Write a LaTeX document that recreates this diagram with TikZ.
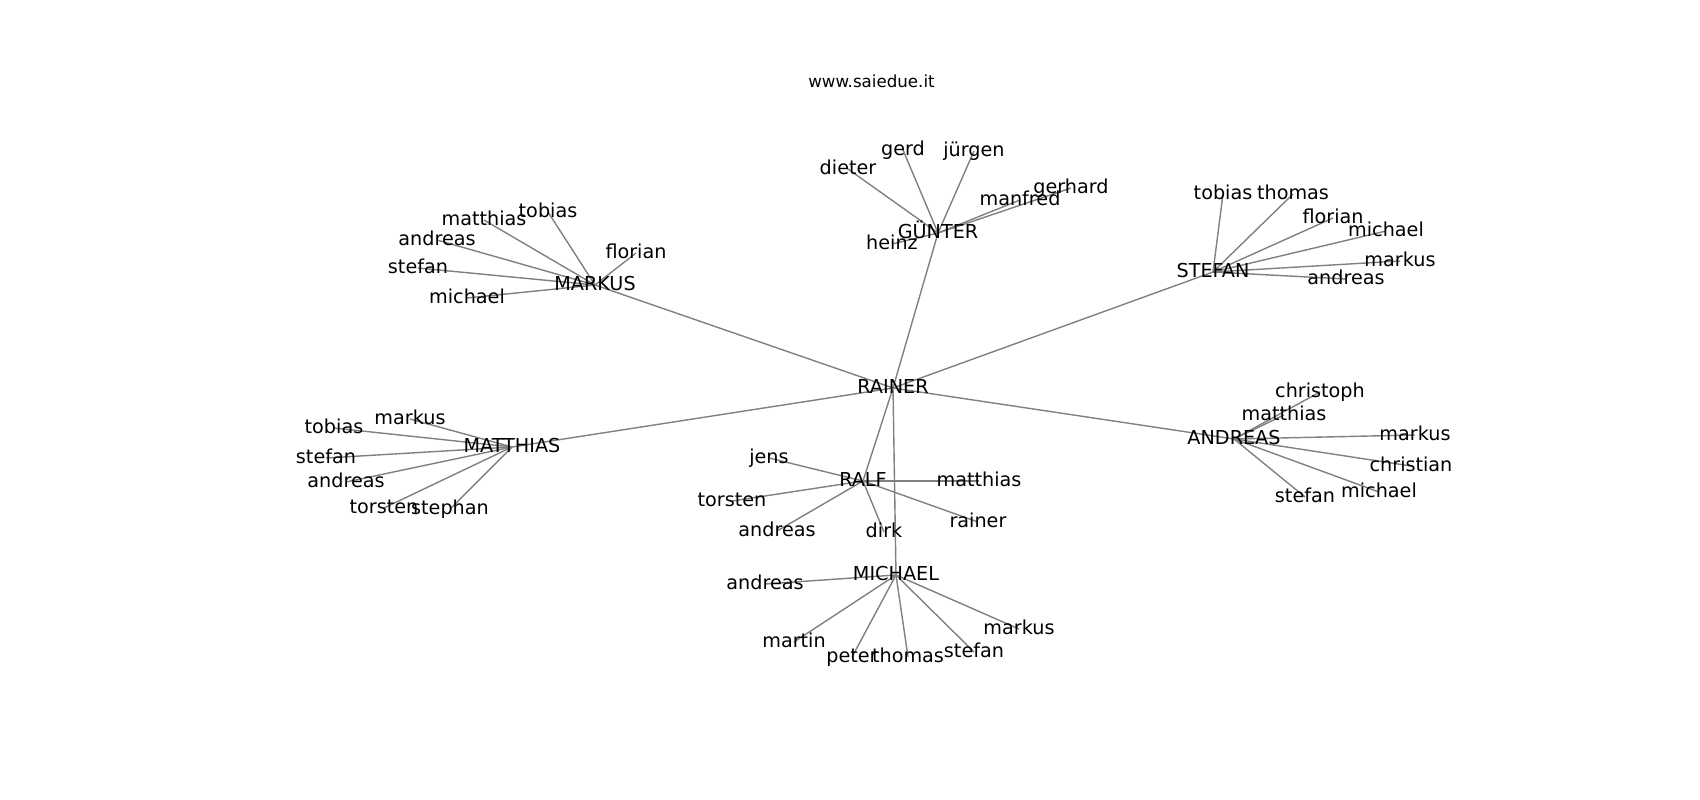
\documentclass[tikz,border=0pt]{standalone}
\usepackage{fontspec}
\setmainfont{DejaVu Sans}
\usetikzlibrary{backgrounds}
\tikzset{
  lbl/.style={inner sep=0pt, text height=14.6pt, text depth=4.6pt,
    font=\fontsize{19.2}{20}\selectfont},
  edge/.style={draw=black!50, line width=1.4pt}
}
\begin{document}
\begin{tikzpicture}[x=1pt, y=-1pt]
\useasboundingbox (0,0) rectangle (1700,800);
\node[anchor=base, font=\fontsize{16.67}{18}\selectfont] (title) at (871.5,87.5) {www.saiedue.it};
\node[lbl] (rainer) at (893,388) {RAINER};
\foreach \h/\x/\y/\t in {guenter/938/233/GÜNTER, markus/595/285/MARKUS,
    stefan/1213/272/STEFAN, matthias/512/447/MATTHIAS, andreas/1234/439/ANDREAS,
    ralf/863/481/RALF, michael/896/575/MICHAEL}
  {\node[lbl] (\h) at (\x,\y) {\t};
   \begin{pgfonlayer}{background}
     \draw[edge] (rainer.center) -- (\h.center);
   \end{pgfonlayer}};
\foreach \h/\c/\x/\y in {guenter/gerd/903/150, guenter/jürgen/974/151, guenter/dieter/848/169,
    guenter/manfred/1020/200, guenter/gerhard/1071/188, guenter/heinz/892/244,
    markus/tobias/548/212, markus/matthias/484/220, markus/andreas/437/240,
    markus/florian/636/253, markus/stefan/418/268, markus/michael/467/298,
    stefan/tobias/1223/194, stefan/thomas/1293/194, stefan/florian/1333/218,
    stefan/michael/1386/231, stefan/markus/1400/261, stefan/andreas/1346/279,
    matthias/markus/410/419, matthias/tobias/334/428, matthias/stefan/326/458,
    matthias/andreas/346/482, matthias/torsten/384/508, matthias/stephan/450/509,
    andreas/christoph/1320/392, andreas/matthias/1284/415, andreas/markus/1415/435,
    andreas/christian/1411/466, andreas/michael/1379/492, andreas/stefan/1305/497,
    ralf/jens/769/458, ralf/torsten/732/501, ralf/andreas/777/531,
    ralf/dirk/884/532, ralf/matthias/979/481, ralf/rainer/978/522,
    michael/andreas/765/584, michael/martin/794/642, michael/peter/852/657,
    michael/thomas/908/657, michael/stefan/974/652, michael/markus/1019/629}
  {\node[lbl] (\h-\c) at (\x,\y) {\c};
   \begin{pgfonlayer}{background}
     \draw[edge] (\h.center) -- (\h-\c.center);
   \end{pgfonlayer}};
\end{tikzpicture}
\end{document}
